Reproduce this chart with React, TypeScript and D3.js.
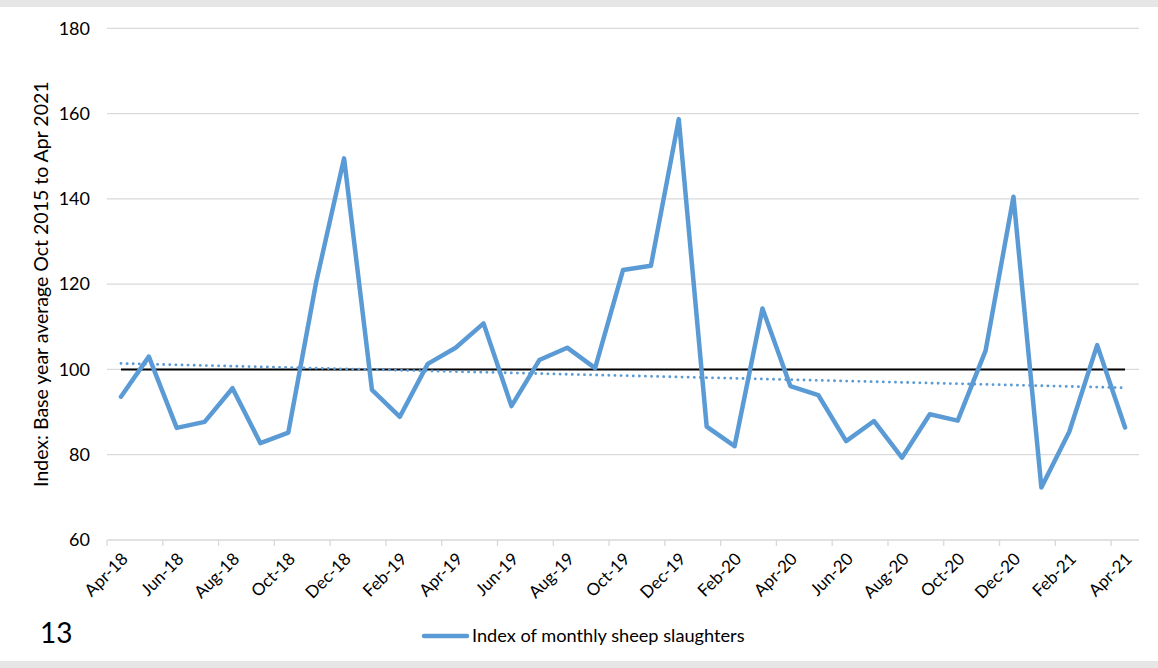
import React from "react";
import * as d3 from "d3";

const months = [
  "Apr-18","May-18","Jun-18","Jul-18","Aug-18","Sep-18","Oct-18","Nov-18","Dec-18",
  "Jan-19","Feb-19","Mar-19","Apr-19","May-19","Jun-19","Jul-19","Aug-19","Sep-19","Oct-19","Nov-19","Dec-19",
  "Jan-20","Feb-20","Mar-20","Apr-20","May-20","Jun-20","Jul-20","Aug-20","Sep-20","Oct-20","Nov-20","Dec-20",
  "Jan-21","Feb-21","Mar-21","Apr-21",
];
const slaughters = [
  93.6, 103.0, 86.3, 87.7, 95.6, 82.7, 85.2, 120.5, 149.5,
  95.2, 88.9, 101.3, 105.1, 110.8, 91.4, 102.2, 105.1, 100.3, 123.3, 124.3, 158.7,
  86.6, 82.0, 114.3, 96.1, 94.0, 83.2, 87.9, 79.3, 89.5, 88.0, 104.4, 140.5,
  72.3, 85.4, 105.7, 86.4,
];
const baseline = 100;
// linear trendline endpoints as shown (first and last month)
const trendStart = 101.4;
const trendEnd = 95.7;
const yTicks = [60, 80, 100, 120, 140, 160, 180];
const seriesName = "Index of monthly sheep slaughters";
const yTitle = "Index: Base year average Oct 2015 to Apr  2021";
const pageNumber = "13";

const W = 1158, H = 668;
const left = 107, right = 1139, top = 28.3, bottom = 540;
const FONT = "Lato, 'Open Sans', sans-serif";

export default function App() {
  const x = d3.scaleBand<string>().domain(months).range([left, right]).paddingInner(0).paddingOuter(0);
  const y = d3.scaleLinear().domain([60, 180]).range([bottom, top]);
  const cx = (m: string) => (x(m) as number) + x.bandwidth() / 2;
  const n = months.length;

  const line = d3.line<number>().x((_, i) => cx(months[i])).y((v) => y(v));

  const tickMonths = months.filter((_, i) => i % 2 === 0);
  const tickBoundaries = d3.range(0, n, 2).map((i) => x(months[i]) as number);

  return (
    <svg width={W} height={H} style={{ position: "absolute", left: 0, top: 0, background: "#fff" }} fontFamily={FONT}>
      <rect x={0} y={0} width={W} height={7} fill="#e6e6e6" />
      <rect x={0} y={661} width={W} height={7} fill="#e6e6e6" />
      {yTicks.map((t) => (
        <g key={t}>
          <line x1={left} x2={right} y1={y(t)} y2={y(t)} stroke="#d9d9d9" strokeWidth={1.3} />
          <text x={90} y={y(t)} dy="0.35em" textAnchor="end" fontSize={18} fill="#000">{t}</text>
        </g>
      ))}
      {tickBoundaries.map((bx, i) => (
        <line key={i} x1={bx} x2={bx} y1={bottom} y2={bottom + 6} stroke="#d9d9d9" strokeWidth={1.3} />
      ))}
      {tickMonths.map((m) => (
        <text key={m} transform={`translate(${cx(m) + 8},${bottom + 20}) rotate(-45)`} textAnchor="end" fontSize={17} fill="#000">{m}</text>
      ))}
      <text transform={`translate(48,${(top + bottom) / 2}) rotate(-90)`} textAnchor="middle" fontSize={19.5} fill="#000">{yTitle}</text>
      <line x1={cx(months[0])} x2={cx(months[n - 1])} y1={y(baseline)} y2={y(baseline)} stroke="#000" strokeWidth={2} />
      <line x1={cx(months[0])} x2={cx(months[n - 1])} y1={y(trendStart)} y2={y(trendEnd)} stroke="#5b9bd5" strokeWidth={2.8} strokeDasharray="0.1 6" strokeLinecap="round" />
      <path d={line(slaughters) as string} fill="none" stroke="#5b9bd5" strokeWidth={4.5} strokeLinejoin="round" strokeLinecap="round" />
      <text x={40} y={643} fontSize={28} fill="#000">{pageNumber}</text>
      <line x1={424} x2={467} y1={636} y2={636} stroke="#5b9bd5" strokeWidth={4.5} strokeLinecap="round" />
      <text x={472} y={636} dy="0.35em" fontSize={18.2} fill="#000">{seriesName}</text>
    </svg>
  );
}
